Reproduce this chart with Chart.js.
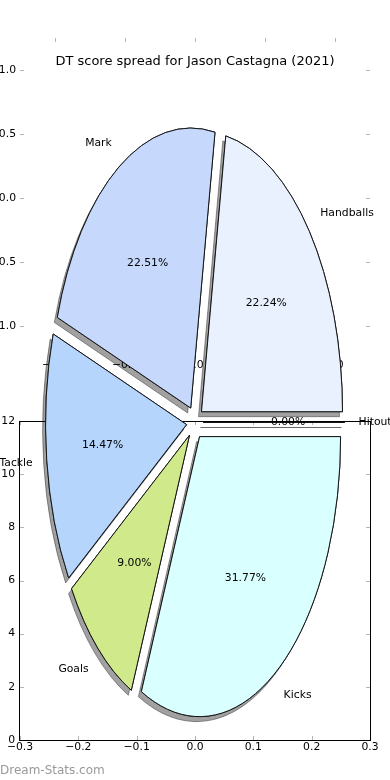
<!DOCTYPE html>
<html>
<head>
<meta charset="utf-8">
<title>DT score spread for Jason Castagna (2021)</title>
<script src="https://cdn.jsdelivr.net/npm/chart.js@4.4.1/dist/chart.umd.min.js"></script>
<style>
  html, body { margin: 0; padding: 0; background: #fff; }
  #wrap { position: relative; width: 390px; height: 780px; overflow: hidden; }
  #wrap canvas { position: absolute; left: 0; top: 0; }
  #credit { position: absolute; left: 0; top: 763px; font: 12px "DejaVu Sans", sans-serif; line-height: 14px; color: #999; }
</style>
</head>
<body>
<div id="wrap">
  <canvas id="topAxes" width="390" height="780"></canvas>
  <canvas id="lowAxes" width="390" height="780"></canvas>
  <canvas id="pieChart" width="390" height="780"></canvas>
  <div id="credit">Dream-Stats.com</div>
</div>
<script>
// DT score spread pie, drawn matplotlib style: stretched, exploded, shadowed

const categories = ['Handballs', 'Mark', 'Tackle', 'Goals', 'Kicks', 'Hitout'];
const scoreShare = [22.24, 22.51, 14.47, 9.00, 31.77, 0.00];
const sliceColours = ['#e9f1fe', '#c6d9fd', '#b5d5fd', '#d0ea8b', '#daffff', '#ffffff'];

// tick values of the two leftover axes behind the pie
const topXTicks = [-1.0, -0.5, 0.0, 0.5, 1.0];
const topYTicks = [-1.0, -0.5, 0.0, 0.5, 1.0];
const lowXTicks = [-0.3, -0.2, -0.1, 0.0, 0.1, 0.2, 0.3];
const lowYTicks = [0, 2, 4, 6, 8, 10, 12];

const stretch = 280 / 141;   // vertical radius over horizontal radius
const explode = 0.06;        // how far each slice is pulled out (share of radius)
const shadow = { dx: -3, dy: 5, colour: 'rgba(0, 0, 0, 0.37)' };

Chart.defaults.font.family = '"DejaVu Sans", sans-serif';
Chart.defaults.font.size = 10.8;
Chart.defaults.color = '#000';

const oneDecimal = v => Number(v).toFixed(1).replace('-', '\u2212');

function axis(ticks, min, max, fmt, fit, pad) {
    return {
        type: 'linear',
        min: min,
        max: max,
        afterBuildTicks: s => { s.ticks = ticks.map(v => ({ value: v })); },
        afterFit: fit,
        grid: { display: false, drawTicks: false },
        border: { display: false },
        ticks: { autoSkip: false, maxRotation: 0, minRotation: 0, padding: pad, callback: fmt }
    };
}

// small grey tick marks pointing into the plot, on all four sides
const innerTicks = {
    id: 'innerTicks',
    afterDraw(chart) {
        const { ctx, chartArea: a, scales } = chart;
        const len = 4;
        ctx.save();
        ctx.strokeStyle = '#b4b4b4';
        ctx.lineWidth = 1;
        ctx.beginPath();
        scales.x.ticks.forEach(t => {
            const px = Math.round(scales.x.getPixelForValue(t.value)) + 0.5;
            ctx.moveTo(px, a.top); ctx.lineTo(px, a.top + len);
            ctx.moveTo(px, a.bottom); ctx.lineTo(px, a.bottom - len);
        });
        scales.y.ticks.forEach(t => {
            const py = Math.round(scales.y.getPixelForValue(t.value)) + 0.5;
            ctx.moveTo(a.left, py); ctx.lineTo(a.left + len, py);
            ctx.moveTo(a.right, py); ctx.lineTo(a.right - len, py);
        });
        ctx.stroke();
        ctx.restore();
    }
};

const frame = {
    id: 'frame',
    afterDraw(chart) {
        const { ctx, chartArea: a } = chart;
        ctx.save();
        ctx.strokeStyle = '#000';
        ctx.lineWidth = 1;
        ctx.strokeRect(a.left - 0.5, a.top + 0.5, a.right - a.left + 1, a.bottom - a.top);
        ctx.restore();
    }
};

// upper axes: no frame, only ticks and labels
new Chart(document.getElementById('topAxes'), {
    type: 'scatter',
    data: { datasets: [] },
    options: {
        responsive: false,
        animation: false,
        events: [],
        layout: { padding: { left: 0, right: 20, top: 38, bottom: 402 } },
        plugins: { legend: { display: false }, tooltip: { enabled: false } },
        scales: {
            x: axis(topXTicks, -1.25, 1.25, oneDecimal, s => { s.height = 20; }, 1),
            y: axis(topYTicks, -1.25, 1.25, oneDecimal, s => { s.width = 20; }, 4)
        }
    },
    plugins: [innerTicks]
});

// lower axes with a full black frame
new Chart(document.getElementById('lowAxes'), {
    type: 'scatter',
    data: { datasets: [] },
    options: {
        responsive: false,
        animation: false,
        events: [],
        layout: { padding: { left: 0, right: 20, top: 421, bottom: 20 } },
        plugins: { legend: { display: false }, tooltip: { enabled: false } },
        scales: {
            x: axis(lowXTicks, -0.3, 0.3, oneDecimal, s => { s.height = 20; }, 1),
            y: axis(lowYTicks, 0, 12, v => String(v), s => { s.width = 20; }, 5)
        }
    },
    plugins: [innerTicks, frame]
});

// move the context into the (stretched, pulled out) space of one slice
function intoSlice(ctx, arc) {
    const mid = (arc.startAngle + arc.endAngle) / 2;
    const e = explode * arc.outerRadius;
    ctx.translate(arc.x, arc.y);
    ctx.scale(1, -stretch);
    ctx.translate(Math.cos(mid) * e - arc.x, Math.sin(mid) * e - arc.y);
}

function paintSlice(ctx, arc) {
    ctx.save();
    intoSlice(ctx, arc);
    arc.draw(ctx);
    ctx.beginPath();
    ctx.moveTo(arc.x, arc.y);
    ctx.arc(arc.x, arc.y, arc.outerRadius, arc.startAngle, arc.endAngle);
    ctx.closePath();
    ctx.restore();
    ctx.stroke(); // stroke outside the stretch so the edge stays 1px
}

const stretchedPie = {
    id: 'stretchedPie',
    beforeDatasetsDraw(chart) {
        const ctx = chart.ctx;
        const arcs = chart.getDatasetMeta(0).data;
        ctx.save();
        ctx.lineWidth = 1;
        ctx.strokeStyle = '#141414';
        ctx.shadowBlur = 0;
        ctx.shadowOffsetX = shadow.dx;
        ctx.shadowOffsetY = shadow.dy;
        ctx.shadowColor = shadow.colour;
        arcs.forEach(a => paintSlice(ctx, a));
        ctx.shadowColor = 'rgba(0, 0, 0, 0)';
        arcs.forEach(a => paintSlice(ctx, a));
        ctx.restore();
        return false;
    },
    afterDraw(chart) {
        const ctx = chart.ctx;
        const arcs = chart.getDatasetMeta(0).data;
        const total = scoreShare.reduce((s, v) => s + v, 0);
        ctx.save();
        ctx.font = '10.8px "DejaVu Sans", sans-serif';
        ctx.fillStyle = '#000';
        ctx.textBaseline = 'middle';
        arcs.forEach((arc, i) => {
            const mid = (arc.startAngle + arc.endAngle) / 2;
            const e = explode * arc.outerRadius;
            const at = k => [
                arc.x + Math.cos(mid) * (e + k * arc.outerRadius),
                arc.y - stretch * Math.sin(mid) * (e + k * arc.outerRadius)
            ];
            let [x, y] = at(1.1);
            ctx.textAlign = Math.cos(mid) < 0 ? 'right' : 'left';
            ctx.fillText(categories[i], x, y);
            [x, y] = at(0.6);
            ctx.textAlign = 'center';
            ctx.fillText((scoreShare[i] / total * 100).toFixed(2) + '%', x, y);
        });
        ctx.restore();
    }
};

new Chart(document.getElementById('pieChart'), {
    type: 'pie',
    data: {
        labels: categories,
        datasets: [{
            data: scoreShare,
            backgroundColor: sliceColours,
            borderWidth: 0
        }]
    },
    options: {
        responsive: false,
        animation: false,
        events: [],
        rotation: 90,
        radius: 141,
        layout: { padding: { left: 0, right: 0, top: 0, bottom: 4.6 } },
        plugins: {
            legend: { display: false },
            tooltip: { enabled: false },
            title: {
                display: true,
                text: 'DT score spread for Jason Castagna (2021)',
                color: '#000',
                font: { size: 13, weight: 'normal' },
                padding: { top: 54, bottom: 0 }
            }
        }
    },
    plugins: [stretchedPie]
});
</script>
</body>
</html>
